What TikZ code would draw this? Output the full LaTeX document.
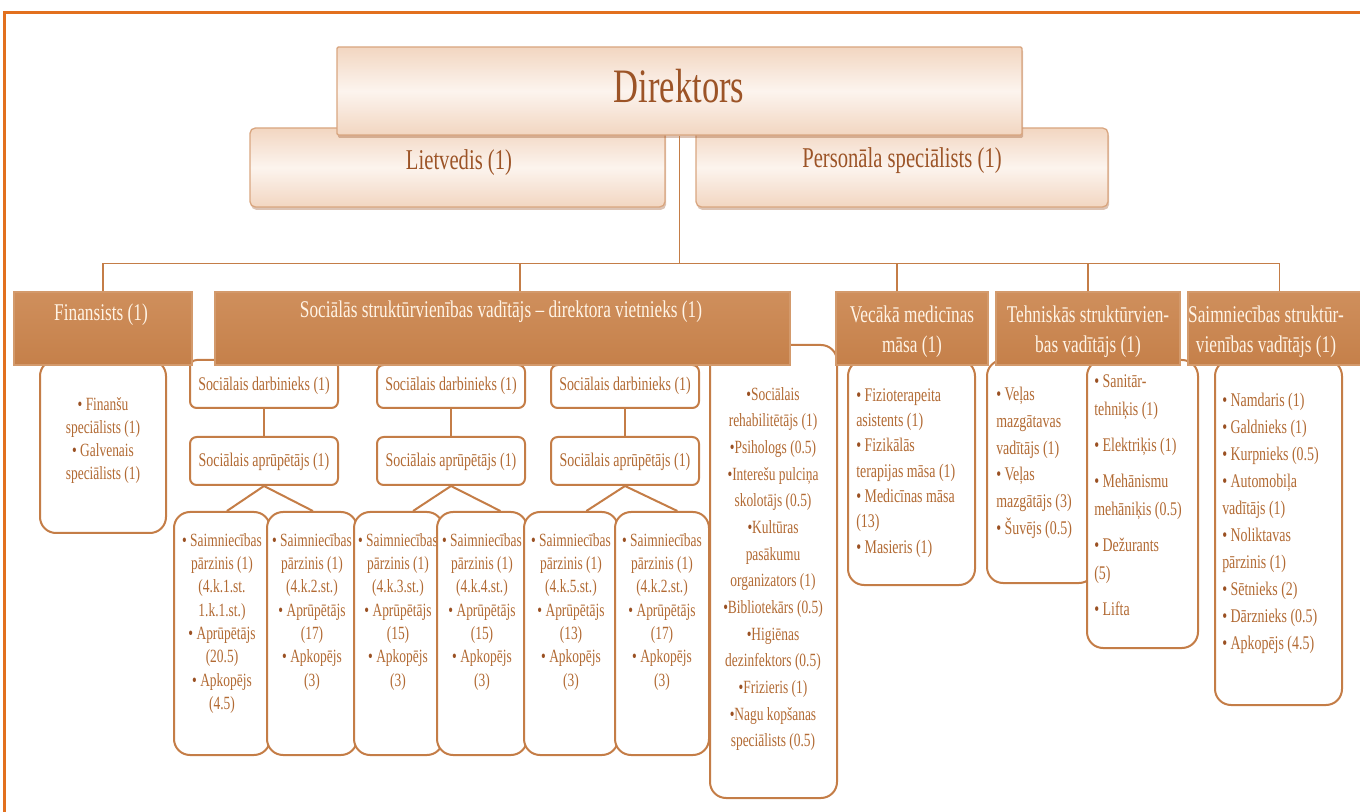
\documentclass[tikz,border=0pt]{standalone}
\usepackage{fontspec}
\setmainfont{Liberation Serif}
\newfontfamily\cond[FakeStretch=0.72]{Liberation Serif}
\usetikzlibrary{fit,calc,shadows}
\definecolor{frameor}{HTML}{E2701E}
\definecolor{boxfill}{HTML}{C5804A}
\definecolor{boxtop}{HTML}{CF8F5C}
\definecolor{boxedge}{HTML}{D39A6C}
\definecolor{linec}{HTML}{C47D47}
\definecolor{txtc}{HTML}{B26A33}
\definecolor{bulc}{HTML}{9A5022}
\definecolor{toptxt}{HTML}{9C5427}
\definecolor{topline}{HTML}{D9A680}
\definecolor{peach}{HTML}{F2D6C1}
\definecolor{peachlight}{HTML}{FCF4EE}
\definecolor{cream}{HTML}{FFF4E6}
\newcommand\bu{{\color{bulc}•}}
\tikzset{
  topbox/.style={draw=topline, line width=1pt, rounded corners=4pt, inner sep=0pt,
    top color=peach, bottom color=peach, middle color=peachlight,
    drop shadow={opacity=0.35, shadow xshift=0.8pt, shadow yshift=-2.2pt, fill=toptxt}},
  lvlbox/.style={draw=boxedge, line width=0.8pt, inner sep=0pt, top color=boxtop, bottom color=boxfill},
  subbox/.style={draw=linec, line width=1.5pt, fill=white, rounded corners=12pt, inner sep=0pt},
  smallbox/.style={draw=linec, line width=1.5pt, fill=white, rounded corners=5pt, inner sep=0pt},
  conn/.style={draw=linec, line width=1.5pt},
  busl/.style={draw=linec, line width=1.2pt},
  toptext/.style={text=toptxt, inner sep=0pt, font=\cond\fontsize{21.5}{26}\selectfont},
  lvltext/.style={text=cream, align=center, inner sep=0pt, font=\cond\fontsize{18}{22.5}\selectfont},
  smalltext/.style={text=txtc, inner sep=0pt, font=\cond\fontsize{14.5}{17}\selectfont},
  listc/.style={text=txtc, align=center, inner sep=0pt, anchor=north},
  listl/.style={text=txtc, align=left, inner sep=0pt, anchor=north west}
}
\begin{document}
\begin{tikzpicture}[x=0.75pt, y=-0.75pt]
\useasboundingbox (0,0) rectangle (1360,812);
% frame
\draw[frameor, line width=2.25pt] (1364,13) -- (4,13) -- (4,816);

% top level
\node[topbox, fit={(250,128)(665,207)}] (liet) {};
\node[toptext] (lietT) at (459,163) {Lietvedis (1)};
\node[topbox, fit={(696,128)(1108,207)}] (pers) {};
\node[toptext] (persT) at (902,161) {Personāla speciālists (1)};
\node[topbox, rounded corners=1pt, fit={(337,47)(1022,135)}] (dir) {};
\node[text=toptxt, inner sep=0pt, font=\cond\fontsize{36}{40}\selectfont] (dirT) at (679,86) {Direktors};

% finansists sub box
\node[subbox, fit={(40,360)(166,533)}] (finS) {};
\node[listc, font=\cond\fontsize{14}{17.25}\selectfont] (finST) at (103,397)
  {\bu{} Finanšu\\speciālists (1)\\\bu{} Galvenais\\speciālists (1)};

% social groups
\node[smallbox, fit={(190,360)(338,408)}] (d1) {};
\node[smalltext] (d1T) at (264,386) {Sociālais darbinieks (1)};
\node[smallbox, fit={(377,365)(525,408)}] (d2) {};
\node[smalltext] (d2T) at (451,386) {Sociālais darbinieks (1)};
\node[smallbox, fit={(551,365)(699,408)}] (d3) {};
\node[smalltext] (d3T) at (625,386) {Sociālais darbinieks (1)};
\node[smallbox, fit={(190,437)(338,485)}] (a1) {};
\node[smalltext] (a1T) at (264,462) {Sociālais aprūpētājs (1)};
\node[smallbox, fit={(377,437)(525,485)}] (a2) {};
\node[smalltext] (a2T) at (451,462) {Sociālais aprūpētājs (1)};
\node[smallbox, fit={(551,437)(699,485)}] (a3) {};
\node[smalltext] (a3T) at (625,462) {Sociālais aprūpētājs (1)};
\draw[conn] (d1.south) -- (a1.north);
\draw[conn] (d2.south) -- (a2.north);
\draw[conn] (d3.south) -- (a3.north);

% bottom boxes
\tikzset{btxt/.style={listc, font=\cond\fontsize{14}{17.5}\selectfont}}
\node[subbox, fit={(174,512)(270,755)}] (b1) {};
\node[btxt] (b1T) at (222,533) {\bu{} Saimniecības\\pārzinis (1)\\(4.k.1.st.\\1.k.1.st.)\\\bu{} Aprūpētājs\\(20.5)\\\bu{} Apkopējs\\(4.5)};
\node[subbox, fit={(267,512)(357,755)}] (b2) {};
\node[btxt] (b2T) at (312,533) {\bu{} Saimniecības\\pārzinis (1)\\(4.k.2.st.)\\\bu{} Aprūpētājs\\(17)\\\bu{} Apkopējs\\(3)};
\node[subbox, fit={(354,512)(443,755)}] (b3) {};
\node[btxt] (b3T) at (398,533) {\bu{} Saimniecības\\pārzinis (1)\\(4.k.3.st.)\\\bu{} Aprūpētājs\\(15)\\\bu{} Apkopējs\\(3)};
\node[subbox, fit={(437,512)(527,755)}] (b4) {};
\node[btxt] (b4T) at (482,533) {\bu{} Saimniecības\\pārzinis (1)\\(4.k.4.st.)\\\bu{} Aprūpētājs\\(15)\\\bu{} Apkopējs\\(3)};
\node[subbox, fit={(524,512)(618,755)}] (b5) {};
\node[btxt] (b5T) at (571,533) {\bu{} Saimniecības\\pārzinis (1)\\(4.k.5.st.)\\\bu{} Aprūpētājs\\(13)\\\bu{} Apkopējs\\(3)};
\node[subbox, fit={(615,512)(709,755)}] (b6) {};
\node[btxt] (b6T) at (662,533) {\bu{} Saimniecības\\pārzinis (1)\\(4.k.2.st.)\\\bu{} Aprūpētājs\\(17)\\\bu{} Apkopējs\\(3)};
\draw[conn] (a1.south) -- ($(b1.north west)!0.55!(b1.north east)$);
\draw[conn] (a1.south) -- ($(b2.north west)!0.51!(b2.north east)$);
\draw[conn] (a2.south) -- ($(b3.north west)!0.66!(b3.north east)$);
\draw[conn] (a2.south) -- ($(b4.north west)!0.70!(b4.north east)$);
\draw[conn] (a3.south) -- ($(b5.north west)!0.66!(b5.north east)$);
\draw[conn] (a3.south) -- ($(b6.north west)!0.66!(b6.north east)$);

% middle list
\node[subbox, fit={(710,345)(837,798)}] (mid) {};
\node[listc, font=\cond\fontsize{14}{20}\selectfont] (midT) at (773,387)
  {\bu Sociālais\\rehabilitētājs (1)\\\bu Psihologs (0.5)\\\bu Interešu pulciņa\\skolotājs (0.5)\\\bu Kultūras\\pasākumu\\organizators (1)\\\bu Bibliotekārs (0.5)\\\bu Higiēnas\\dezinfektors (0.5)\\\bu Frizieris (1)\\\bu Nagu kopšanas\\speciālists (0.5)};

% medical
\node[subbox, fit={(848,360)(975,585)}] (vecS) {};
\node[listl, font=\cond\fontsize{14.5}{19}\selectfont] (vecST) at (856,388)
  {\bu{} Fizioterapeita\\asistents (1)\\\bu{} Fizikālās\\terapijas māsa (1)\\\bu{} Medicīnas māsa\\(13)\\\bu{} Masieris (1)};

% technical
\node[subbox, fit={(987,360)(1095,583)}] (tehS1) {};
\node[listl, font=\cond\fontsize{14.5}{20}\selectfont] (tehS1T) at (996,387)
  {\bu{} Veļas\\mazgātavas\\vadītājs (1)\\\bu{} Veļas\\mazgātājs (3)\\\bu{} Šuvējs (0.5)};
\node[subbox, fit={(1087,360)(1198,648)}] (tehS2) {};
\node[listl, font=\cond\fontsize{14.5}{21}\selectfont] (tehS2T) at (1094,374)
  {\bu{} Sanitār-\\tehniķis (1)\\[6pt]\bu{} Elektriķis (1)\\[6pt]\bu{} Mehānismu\\mehāniķis (0.5)\\[6pt]\bu{} Dežurants\\(5)\\[6pt]\bu{} Lifta};

% household
\node[subbox, fit={(1215,360)(1342,705)}] (saimS) {};
\node[listl, font=\cond\fontsize{14.5}{20.25}\selectfont] (saimST) at (1222,393)
  {\bu{} Namdaris (1)\\\bu{} Galdnieks (1)\\\bu{} Kurpnieks (0.5)\\\bu{} Automobiļa\\vadītājs (1)\\\bu{} Noliktavas\\pārzinis (1)\\\bu{} Sētnieks (2)\\\bu{} Dārznieks (0.5)\\\bu{} Apkopējs (4.5)};

% level 2 boxes
\node[lvlbox, fit={(14,292)(192,365)}] (fin) {};
\node[lvltext] (finT) at (101,315) {Finansists (1)};
\node[lvlbox, fit={(215,292)(790,365)}] (soc) {};
\node[lvltext] (socT) at (501,312) {Sociālās struktūrvienības vadītājs – direktora vietnieks (1)};
\node[lvlbox, fit={(836,292)(988,365)}] (vec) {};
\node[lvltext] (vecT) at (912,332) {Vecākā medicīnas\\māsa (1)};
\node[lvlbox, fit={(996,292)(1180,365)}] (teh) {};
\node[lvltext] (tehT) at (1088,332) {Tehniskās struktūrvien-\\bas vadītājs (1)};
\node[lvlbox, fit={(1188,292)(1364,365)}] (saim) {};
\node[lvltext] (saimT) at (1266,332) {Saimniecības struktūr-\\vienības vadītājs (1)};

% bus
\coordinate (hub) at ($(dir.south)+(0,128)$);
\draw[busl] (dir.south) -- (hub);
\draw[busl] (fin.north) |- (hub);
\draw[busl] ($(soc.north west)!0.53!(soc.north east)$) |- (hub);
\draw[busl] ($(vec.north west)!0.40!(vec.north east)$) |- (hub);
\draw[busl] (teh.north) |- (hub);
\draw[busl] ($(saim.north west)!0.52!(saim.north east)$) |- (hub);
\end{tikzpicture}
\end{document}
